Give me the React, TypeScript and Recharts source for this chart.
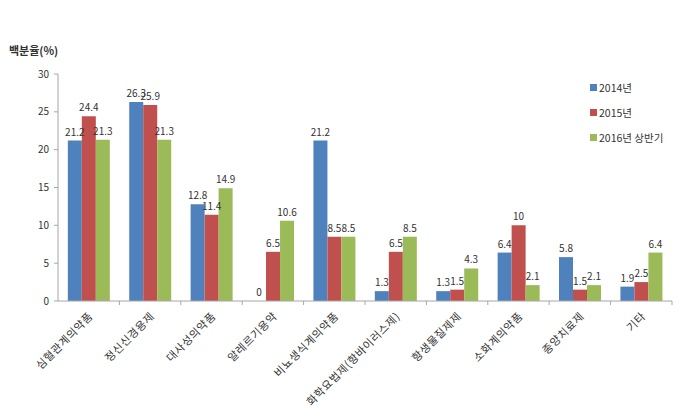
import React from "react"
import { BarChart, Bar, XAxis, YAxis, LabelList } from "recharts"

const categories = [
  "심혈관계의약품",
  "정신신경용제",
  "대사성의약품",
  "알레르기용약",
  "비뇨생식계의약품",
  "화학요법제(항바이러스제)",
  "항생물질제제",
  "소화계의약품",
  "종양치료제",
  "기타",
]
const y2014 = [21.2, 26.3, 12.8, 0, 21.2, 1.3, 1.3, 6.4, 5.8, 1.9]
const y2015 = [24.4, 25.9, 11.4, 6.5, 8.5, 6.5, 1.5, 10, 1.5, 2.5]
const y2016 = [21.3, 21.3, 14.9, 10.6, 8.5, 8.5, 4.3, 2.1, 2.1, 6.4]
const yTicks = [0, 5, 10, 15, 20, 25, 30]

const series = [
  { key: "y2014", name: "2014년", color: "#4F81BD" },
  { key: "y2015", name: "2015년", color: "#C0504D" },
  { key: "y2016", name: "2016년 상반기", color: "#9BBB59" },
]

const data = categories.map((name, i) => ({
  name,
  y2014: y2014[i],
  y2015: y2015[i],
  y2016: y2016[i],
}))

const FONT = "'Noto Sans CJK KR', 'Noto Sans', sans-serif"
const W = 700
const H = 408
const LEFT = 58
const RIGHT = 28
const STEP = (W - LEFT - RIGHT) / categories.length

function XTick(props: any) {
  const { x, y, payload } = props
  const tx = x + 5
  const ty = y + 8
  return (
    <g>
      <line x1={x + STEP / 2} y1={y - 8} x2={x + STEP / 2} y2={y - 4} stroke="#a6a6a6" />
      <text
        x={tx}
        y={ty}
        transform={`rotate(-45 ${tx} ${ty})`}
        textAnchor="end"
        fontSize={11}
        letterSpacing={0.6}
        fill="#333"
        fontFamily={FONT}
      >
        {payload.value}
      </text>
    </g>
  )
}

// zero-height bars still get a (invisible) rect so the "0" label is drawn
const zeroSize = (v: any) => (v === 0 ? 0.01 : 0)

export default function App() {
  return (
    <div style={{ position: "absolute", left: 0, top: 0, width: W, height: H, background: "#fff" }}>
      <div
        style={{
          position: "absolute",
          left: 9,
          top: 42,
          fontFamily: FONT,
          fontSize: 11,
          fontWeight: 700,
          color: "#333",
        }}
      >
        백분율(%)
      </div>
      <div
        style={{
          position: "absolute",
          left: 590,
          top: 75,
          fontFamily: FONT,
          fontSize: 10.5,
          color: "#333",
          zIndex: 2,
        }}
      >
        {series.map((s) => (
          <div key={s.key} style={{ display: "flex", alignItems: "center", height: 25 }}>
            <span style={{ width: 7, height: 7, background: s.color, marginRight: 2, display: "inline-block" }} />
            {s.name}
          </div>
        ))}
      </div>
      <BarChart
        width={W}
        height={H}
        data={data}
        margin={{ top: 74, right: RIGHT, bottom: 0, left: 0 }}
        barCategoryGap="16%"
        barGap={0}
      >
        <XAxis
          dataKey="name"
          interval={0}
          height={107}
          tickLine={false}
          stroke="#a6a6a6"
          tick={<XTick />}
        />
        <YAxis
          width={LEFT}
          domain={[0, 30]}
          ticks={yTicks}
          stroke="#a6a6a6"
          tickSize={4}
          tickMargin={5}
          tick={{ fontSize: 10, fill: "#333", fontFamily: FONT }}
        />
        {series.map((s) => (
          <Bar
            key={s.key}
            dataKey={s.key}
            name={s.name}
            fill={s.color}
            minPointSize={zeroSize}
            isAnimationActive={false}
          >
            <LabelList
              dataKey={s.key}
              position="top"
              offset={5}
              style={{ fontSize: 10, fill: "#333", fontFamily: FONT }}
            />
          </Bar>
        ))}
      </BarChart>
    </div>
  )
}
